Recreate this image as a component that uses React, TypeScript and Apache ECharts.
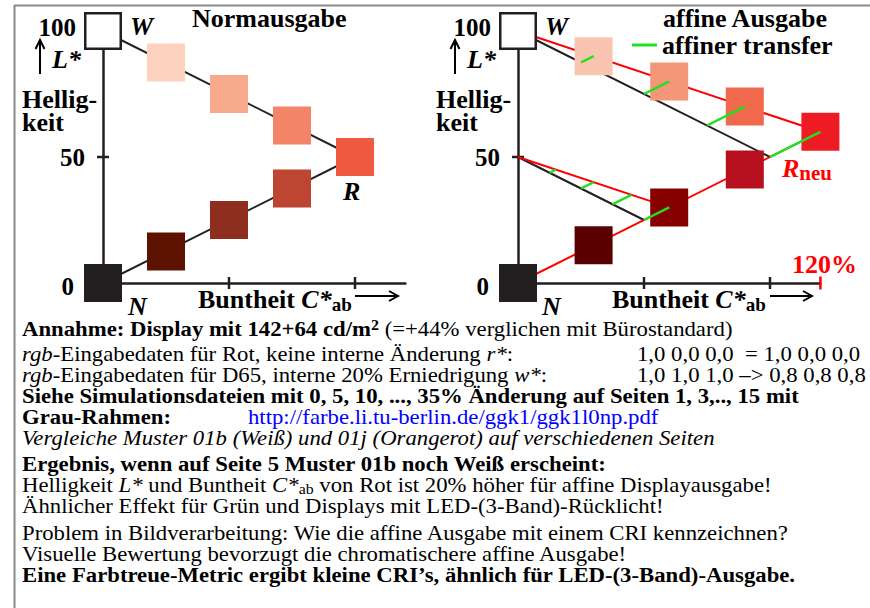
import React, { useEffect, useRef } from 'react';
import * as echarts from 'echarts';

const SERIF = "'Liberation Serif', 'Times New Roman', Times, serif";
const INK = '#231f20';
const RED = '#ff0000';
const GREEN = '#20e020';
const BLUE = '#0000ff';

// axes
const chromaMax = 120;
const lightnessMax = 100;
const yTickLabels = ['0', '50', '100'];
const xTickValues = [50, 100];
const yMidTickValues = [50];

// left panel: Normausgabe
const normUpperC = [0, 25, 50, 75, 100];
const normUpperL = [100, 87.5, 75, 62.5, 50];
const normUpperColors = ['#ffffff', '#fdd2bf', '#f8aa8d', '#f48468', '#f05b40'];
const normLowerC = [0, 25, 50, 75];
const normLowerL = [0, 12.5, 25, 37.5];
const normLowerColors = ['#231f20', '#5d1200', '#8d2e1e', '#bd4531'];
const normLines = [
  [[0, 100], [100, 50]],
  [[0, 0], [100, 50]],
];

// right panel: affine Ausgabe
const affUpperC = [0, 30, 60, 90, 120];
const affUpperL = [100, 90, 80, 70, 60];
const affUpperColors = ['#ffffff', '#fac5b0', '#f49778', '#f0694c', '#ed1c24'];
const affLowerC = [0, 30, 60, 90];
const affLowerL = [0, 15, 30, 45];
const affLowerColors = ['#231f20', '#5a0000', '#870000', '#b8101e'];
const origLines = [
  [[0, 100], [100, 50]],
  [[0, 50], [50, 25]],
];
const affLines = [
  [[0, 100], [120, 60]],
  [[0, 50], [60, 30]],
  [[0, 0], [120, 60]],
];
const transferFrom = [[25, 87.5], [50, 75], [75, 62.5], [100, 50], [12.5, 43.75], [25, 37.5], [37.5, 31.25], [50, 25]];
const transferTo = [[30, 90], [60, 80], [90, 70], [120, 60], [15, 45], [30, 40], [45, 35], [60, 30]];

// notes below the chart
const noteLines = [
  '{b|Annahme: Display mit 142+64 cd/m}{bsup|2}{n| (=+44% verglichen mit Bürostandard)}',
  '{i|rgb}-Eingabedaten für Rot, keine interne Änderung {i|r*}:',
  '{i|rgb}-Eingabedaten für D65, interne 20% Erniedrigung {i|w*}:',
  '{b|Siehe Simulationsdateien mit 0, 5, 10, ..., 35% Änderung auf Seiten 1, 3,.., 15 mit}',
  '{b|Grau-Rahmen:}',
  '{i|Vergleiche Muster 01b (Weiß) und 01j (Orangerot) auf verschiedenen Seiten}',
  '{b|Ergebnis, wenn auf Seite 5 Muster 01b noch Weiß erscheint:}',
  'Helligkeit {i|L*} und Buntheit {i|C*}{sub|ab} von Rot ist 20% höher für affine Displayausgabe!',
  'Ähnlicher Effekt für Grün und Displays mit LED-(3-Band)-Rücklicht!',
  'Problem in Bildverarbeitung: Wie die affine Ausgabe mit einem CRI kennzeichnen?',
  'Visuelle Bewertung bevorzugt die chromatischere affine Ausgabe!',
  '{b|Eine Farbtreue-Metric ergibt kleine CRI’s, ähnlich für LED-(3-Band)-Ausgabe.}',
];
const noteValues = ['1,0 0,0 0,0  = 1,0 0,0 0,0', '1,0 1,0 1,0 –> 0,8 0,8 0,8'];
const noteLink = 'http://farbe.li.tu-berlin.de/ggk1/ggk1l0np.pdf';

const NFS = 20;
const NSX = 1.137;
const noteRich = {
  n: { fontSize: NFS, fontFamily: SERIF, lineHeight: 21, fill: '#000' },
  b: { fontSize: NFS, fontFamily: SERIF, fontWeight: 'bold', lineHeight: 21 },
  i: { fontSize: NFS, fontFamily: SERIF, fontStyle: 'italic', lineHeight: 21 },
  bsup: { fontSize: 14, fontFamily: SERIF, fontWeight: 'bold', lineHeight: 14, padding: [0, 0, 7, 0] },
  sub: { fontSize: 14, fontFamily: SERIF, lineHeight: 12, padding: [9, 0, 0, 0] },
};

const BFS = 26;
const bigRich = {
  n: { fontSize: BFS, fontFamily: SERIF, fontWeight: 'bold', lineHeight: 30 },
  i: { fontSize: BFS, fontFamily: SERIF, fontWeight: 'bold', fontStyle: 'italic', lineHeight: 30 },
  s: { fontSize: 19, fontFamily: SERIF, fontWeight: 'bold', lineHeight: 19, padding: [11, 0, 0, 0] },
};

function T(x: number, baseline: number, text: string, fs: number, extra: any = {}, rich?: any, scaleX = 1) {
  const style: any = {
    text,
    fontSize: fs,
    fontFamily: SERIF,
    fill: '#000',
    verticalAlign: 'middle',
    align: 'left',
    ...extra,
  };
  if (rich) style.rich = rich;
  return {
    type: 'text',
    x,
    y: baseline - 0.3375 * fs,
    scaleX,
    z: 20,
    style,
  };
}

function upArrow(x: number) {
  return [
    { type: 'line', z: 20, shape: { x1: x, y1: 41, x2: x, y2: 74 }, style: { stroke: '#000', lineWidth: 2 } },
    { type: 'polyline', z: 20, shape: { points: [[x - 4.5, 49], [x, 40], [x + 4.5, 49]] }, style: { stroke: '#000', lineWidth: 2, fill: null } },
  ];
}
function rightArrow(x1: number, x2: number, y: number) {
  return [
    { type: 'line', z: 20, shape: { x1, y1: y, x2, y2: y }, style: { stroke: '#000', lineWidth: 2 } },
    { type: 'polyline', z: 20, shape: { points: [[x2 - 9, y - 5], [x2, y], [x2 - 9, y + 5]] }, style: { stroke: '#000', lineWidth: 2, fill: null } },
  ];
}

function squares(cs: number[], ls: number[], colors: string[], grid: number) {
  return {
    type: 'scatter',
    xAxisIndex: grid,
    yAxisIndex: grid,
    symbol: 'rect',
    clip: false,
    silent: true,
    z: 3,
    itemStyle: { opacity: 1 },
    data: cs.map((c, i) => ({
      value: [c, ls[i]],
      symbolSize: colors[i] === '#ffffff' ? 35.5 : 38,
      itemStyle:
        colors[i] === '#ffffff'
          ? { color: '#ffffff', borderColor: INK, borderWidth: 2.5, opacity: 1 }
          : { color: colors[i], opacity: 1 },
    })),
  };
}

function segs(list: number[][][], grid: number, color: string, width: number, z: number, name?: string) {
  return {
    type: 'lines',
    name,
    coordinateSystem: 'cartesian2d',
    xAxisIndex: grid,
    yAxisIndex: grid,
    clip: false,
    silent: true,
    z,
    lineStyle: { color, width, opacity: 1 },
    data: list.map((c) => ({ coords: c })),
  };
}

function ticks(grid: number, withRed: boolean) {
  const out: any[] = [
    {
      type: 'scatter', xAxisIndex: grid, yAxisIndex: grid, symbol: 'rect', symbolSize: [2.5, 12], clip: false, silent: true, z: 5,
      itemStyle: { color: INK, opacity: 1 }, data: xTickValues.map((v) => [v, 0]),
    },
    {
      type: 'scatter', xAxisIndex: grid, yAxisIndex: grid, symbol: 'rect', symbolSize: [12, 2.5], clip: false, silent: true, z: 1,
      itemStyle: { color: INK, opacity: 1 }, data: yMidTickValues.map((v) => [0, v]),
    },
  ];
  if (withRed) {
    out.push({
      type: 'scatter', xAxisIndex: grid, yAxisIndex: grid, symbol: 'rect', symbolSize: [2.5, 13], clip: false, silent: true, z: 5,
      itemStyle: { color: RED, opacity: 1 }, data: [[chromaMax, 0]],
    });
  }
  return out;
}

export default function App() {
  const ref = useRef<HTMLDivElement>(null);
  useEffect(() => {
    document.body.style.margin = '0';
    const chart = echarts.init(ref.current!, null, { renderer: 'svg' });
    const axisLine = { show: true, onZero: false, lineStyle: { color: INK, width: 2.5 } };
    const labelRich = {
      m: { fontSize: 25, fontWeight: 'bold', fontFamily: SERIF, color: '#000', padding: [0, 0, 0, 0] },
      t: { fontSize: 25, fontWeight: 'bold', fontFamily: SERIF, color: '#000', padding: [0, 9, 8, 0] },
      z: { fontSize: 25, fontWeight: 'bold', fontFamily: SERIF, color: '#000', padding: [6, 11, 0, 0] },
    };
    const yAxisFor = (g: number) => ({
      type: 'value', gridIndex: g, min: 0, max: lightnessMax, interval: 50,
      axisLine, axisTick: { show: false }, splitLine: { show: false },
      axisLabel: {
        show: true, margin: 18, rich: labelRich,
        formatter: (v: number) => {
          const idx = v / 50;
          const s = yTickLabels[idx];
          return idx === 1 ? `{m|${s}}` : idx === 2 ? `{t|${s}}` : `{z|${s}}`;
        },
      },
    });
    const xAxisFor = (g: number) => ({
      type: 'value', gridIndex: g, min: 0, max: chromaMax,
      axisLine, axisTick: { show: false }, splitLine: { show: false }, axisLabel: { show: false },
    });

    const noteY = (i: number) =>
      i === 0 ? 336 : 340 + i * 21 + (i >= 6 ? 5 : 0) + (i >= 9 ? 6 : 0);
    const bold = { fontWeight: 'bold' };
    const boldIt = { fontWeight: 'bold', fontStyle: 'italic' };
    const helligRich = { h: { fontSize: BFS, fontFamily: SERIF, fontWeight: 'bold', lineHeight: 23 } };

    const graphic: any[] = [
      { type: 'line', z: 30, shape: { x1: 14, y1: 5.5, x2: 870, y2: 5.5 }, style: { stroke: '#8a8a8a', lineWidth: 2 } },
      { type: 'line', z: 30, shape: { x1: 14.5, y1: 5, x2: 14.5, y2: 608 }, style: { stroke: '#8a8a8a', lineWidth: 2 } },
      // left panel
      T(192, 27, 'Normausgabe', BFS, bold),
      T(22, 119.5, '{h|Hellig-}\n{h|keit}', BFS, bold, helligRich),
      T(52, 68, 'L*', BFS, boldIt),
      T(130, 35, 'W', BFS, boldIt),
      T(128, 315, 'N', BFS, boldIt),
      T(343, 200, 'R', BFS, boldIt),
      T(198, 308, '{n|Buntheit }{i|C*}{s|ab}', BFS, bold, bigRich),
      ...upArrow(40),
      ...rightArrow(355, 398, 296),
      // right panel
      T(663, 27, 'affine Ausgabe', BFS, bold),
      T(436, 119.5, '{h|Hellig-}\n{h|keit}', BFS, bold, helligRich),
      T(467, 68, 'L*', BFS, boldIt),
      T(545, 35, 'W', BFS, boldIt),
      T(542, 315, 'N', BFS, boldIt),
      T(782, 177, '{r|R}{s|neu}', BFS, bold, {
        r: { fontSize: BFS, fontFamily: SERIF, fontWeight: 'bold', fontStyle: 'italic', fill: RED, lineHeight: 28 },
        s: { fontSize: 21, fontFamily: SERIF, fontWeight: 'bold', fill: RED, lineHeight: 18, padding: [10, 0, 0, 0] },
      }),
      T(792, 273, '120%', BFS, { fontWeight: 'bold', fill: RED }),
      T(612, 308, '{n|Buntheit }{i|C*}{s|ab}', BFS, bold, bigRich),
      ...upArrow(455),
      ...rightArrow(770, 812, 296),
    ];

    noteLines.forEach((line, i) => {
      graphic.push(T(22, noteY(i), line, NFS, {}, noteRich, NSX));
    });
    graphic.push(T(637, noteY(1), noteValues[0], NFS, {}, undefined, NSX));
    graphic.push(T(637, noteY(2), noteValues[1], NFS, {}, undefined, NSX));
    graphic.push(T(248, noteY(4), noteLink, NFS, { fill: BLUE }, undefined, NSX));

    const option: any = {
      animation: false,
      backgroundColor: '#ffffff',
      grid: [
        { left: 103, top: 31, width: 302.4, height: 252 },
        { left: 518, top: 31, width: 302.4, height: 252 },
      ],
      xAxis: [xAxisFor(0), xAxisFor(1)],
      yAxis: [yAxisFor(0), yAxisFor(1)],
      legend: {
        show: true,
        left: 632,
        top: 31.5,
        padding: 0,
        itemWidth: 25,
        itemHeight: 3,
        selectedMode: false,
        data: [{ name: 'affiner transfer', icon: 'rect', itemStyle: { color: GREEN, borderWidth: 0 } }],
        textStyle: { fontSize: BFS, fontWeight: 'bold', fontFamily: SERIF, color: '#000', lineHeight: 27 },
      },
      series: [
        segs(normLines, 0, INK, 2, 2),
        squares(normUpperC, normUpperL, normUpperColors, 0),
        squares(normLowerC, normLowerL, normLowerColors, 0),
        ...ticks(0, false),
        segs(origLines, 1, INK, 2, 2),
        segs(affLines, 1, RED, 2, 2),
        squares(affUpperC, affUpperL, affUpperColors, 1),
        squares(affLowerC, affLowerL, affLowerColors, 1),
        segs(transferFrom.map((f, i) => [f, transferTo[i]]), 1, GREEN, 2.5, 4, 'affiner transfer'),
        ...ticks(1, true),
      ],
      graphic,
    };
    chart.setOption(option);
    return () => chart.dispose();
  }, []);
  return <div ref={ref} style={{ width: 870, height: 608 }} />;
}
